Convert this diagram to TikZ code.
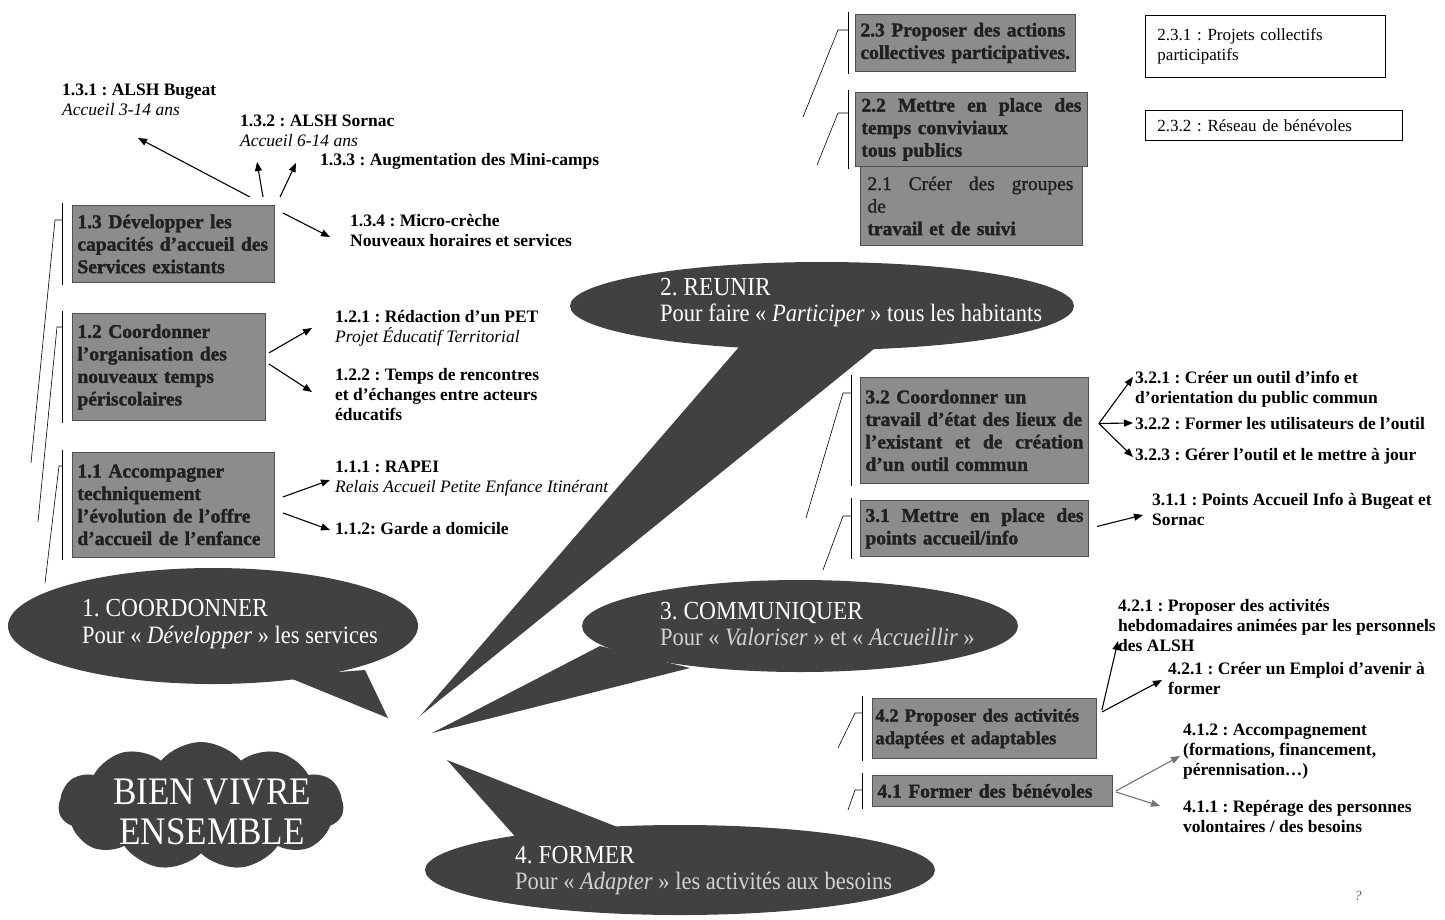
\documentclass[tikz,border=0pt]{standalone}
\usepackage{fontspec}
\setmainfont{Liberation Serif}
\newfontfamily\condfont{Liberation Serif}[Ligatures=TeX, FakeStretch=0.9]
\newfontfamily\boxfont{Liberation Serif}[Ligatures=TeX, UprightFeatures={FakeBold=1.2}, BoldFeatures={FakeBold=1.6}]
\usetikzlibrary{arrows.meta,shapes.symbols,calc}
\definecolor{bubble}{HTML}{414141}
\definecolor{boxfill}{HTML}{8C8C8C}
\definecolor{boxline}{HTML}{505050}
\definecolor{boxtext}{HTML}{202020}
\definecolor{lightsub}{HTML}{D2D2D2}
\frenchspacing
\tikzset{
  kbox/.style={draw=boxline, line width=0.9pt, fill=boxfill, anchor=north west,
    inner xsep=5pt, inner ysep=0pt, align=left, text=boxtext,
    execute at begin node={\hyphenpenalty=10000 \exhyphenpenalty=10000 \hbadness=10000},
    font=\boxfont\fontsize{19.5}{22.5}\selectfont\bfseries},
  wbox/.style={draw=black, line width=0.9pt, fill=white, anchor=north west,
    inner xsep=12pt, inner ysep=0pt, align=left,
    font=\fontsize{17}{20}\selectfont},
  lbl/.style={anchor=base west, inner sep=0pt, align=left,
    font=\fontsize{17.5}{20}\selectfont\bfseries},
  arr/.style={line width=1.1pt, -{Triangle[length=9pt,width=7pt]}},
  garr/.style={arr, draw=black!55, color=black!55},
  brk/.style={line width=0.6pt},
  bub/.style={fill=bubble, draw=none},
  btitle/.style={anchor=base west, inner sep=0pt, text=white,
    font=\condfont\fontsize{26}{28}\selectfont},
  bsub/.style={anchor=base west, inner sep=0pt, text=white,
    font=\condfont\fontsize{25}{27}\selectfont},
  ctext/.style={anchor=base, inner sep=0pt, text=white,
    font=\condfont\fontsize{39}{40}\selectfont},
}
\newcommand{\sline}[2]{\makebox[#1][s]{\spaceskip=0.25em plus 1fil\relax #2}}
\begin{document}
\begin{tikzpicture}[x=1pt,y=-1pt]
\useasboundingbox (0,0) rectangle (1445,919);
\fill[white] (0,0) rectangle (1445,919);

% ---------- boxes ----------
\node[kbox, minimum width=202pt, minimum height=77pt, text width=192pt] (b13) at (72,205)
  {1.3 Développer les\\capacités d'accueil des\\Services existants};
\node[kbox, minimum width=193pt, minimum height=107pt, text width=183pt] (b12) at (72,313)
  {1.2 Coordonner\\l'organisation des\\nouveaux temps\\périscolaires};
\node[kbox, minimum width=202pt, minimum height=105pt, text width=192pt] (b11) at (72,452)
  {1.1 Accompagner\\techniquement\\l'évolution de l'offre\\d'accueil de l'enfance};

\node[kbox, minimum width=220pt, minimum height=57pt, text width=210pt] (b23) at (855,14)
  {2.3 Proposer des actions\\collectives participatives.};
\node[kbox, minimum width=232pt, minimum height=74pt, text width=220pt] (b22) at (855,92)
  {\sline{220pt}{2.2 Mettre en place des}\\temps conviviaux\\tous publics};
\node[kbox, minimum width=222pt, minimum height=79pt, text width=208pt] (b21) at (860,166)
  {{\mdseries\sline{206pt}{2.1 Créer des groupes}}\\{\mdseries de}\\travail et de suivi};

\node[wbox, minimum width=240pt, minimum height=62pt, text width=216pt] (w231) at (1145,15)
  {2.3.1 : Projets collectifs\\participatifs};
\node[wbox, minimum width=257pt, minimum height=30pt, text width=233pt] (w232) at (1145,110)
  {2.3.2 : Réseau de bénévoles};

\node[kbox, minimum width=228pt, minimum height=106pt, text width=218pt] (b32) at (860,377)
  {3.2 Coordonner un\\travail d'état des lieux de\\\sline{218pt}{l'existant et de création}\\d'un outil commun};
\node[kbox, minimum width=228pt, minimum height=56pt, text width=218pt] (b31) at (860,500)
  {\sline{218pt}{3.1 Mettre en place des}\\points accueil/info};

\node[kbox, minimum width=224pt, minimum height=60pt, text width=218pt, inner xsep=3pt,
  font=\boxfont\fontsize{18.5}{22.5}\selectfont\bfseries] (b42) at (872,698)
  {4.2 Proposer des activités\\adaptées et adaptables};
\node[kbox, minimum width=240pt, minimum height=31pt, text width=230pt] (b41) at (872,775)
  {4.1 Former des bénévoles};

% ---------- labels (base = last line) ----------
\node[lbl] (n131) at (62,115) {1.3.1 : ALSH Bugeat\\{\mdseries\itshape Accueil 3-14 ans}};
\node[lbl] (n132) at (240,146) {1.3.2 : ALSH Sornac\\{\mdseries\itshape Accueil 6-14 ans}};
\node[lbl] (n133) at (320,165) {1.3.3 : Augmentation des Mini-camps};
\node[lbl] (n134) at (350,246) {1.3.4 : Micro-crèche\\Nouveaux horaires et services};
\node[lbl] (n121) at (335,342) {1.2.1 : Rédaction d'un PET\\{\mdseries\itshape Projet Éducatif Territorial}};
\node[lbl] (n122) at (335,420) {1.2.2 : Temps de rencontres\\et d'échanges entre acteurs\\éducatifs};
\node[lbl] (n111) at (335,492) {1.1.1 : RAPEI\\{\mdseries\itshape Relais Accueil Petite Enfance Itinérant}};
\node[lbl] (n112) at (335,534) {1.1.2: Garde a domicile};

\node[lbl] (n321) at (1135,403) {3.2.1 : Créer un outil d'info et\\d'orientation du public commun};
\node[lbl] (n322) at (1135,429) {3.2.2 : Former les utilisateurs de l'outil};
\node[lbl] (n323) at (1135,460) {3.2.3 : Gérer l'outil et le mettre à jour};
\node[lbl] (n311) at (1152,525) {3.1.1 : Points Accueil Info à Bugeat et\\Sornac};

\node[lbl] (n421a) at (1118,651) {4.2.1 : Proposer des activités\\hebdomadaires animées par les personnels\\des ALSH};
\node[lbl] (n421b) at (1168,694) {4.2.1 : Créer un Emploi d'avenir à\\former};
\node[lbl] (n412) at (1183,775) {4.1.2 : Accompagnement\\(formations, financement,\\pérennisation…)};
\node[lbl] (n411) at (1183,832) {4.1.1 : Repérage des personnes\\volontaires / des besoins};

\node[anchor=base, inner sep=0pt, text=black!60, font=\fontsize{14}{16}\selectfont\itshape] (qm) at (1358,900) {?};

% ---------- arrows ----------
\coordinate (h131) at (138,138);
\coordinate (h132) at (257,162);
\coordinate (h133) at (296,163);
\coordinate (h134) at (330,237);
\draw[arr] ($(b13.north west)+(178,-8)$) -- (h131);
\draw[arr] ($(b13.north west)+(191,-8)$) -- (h132);
\draw[arr] ($(b13.north west)+(208,-8)$) -- (h133);
\draw[arr] ($(b13.north east)+(8,8)$) -- (h134);

\coordinate (h121) at (312,328);
\coordinate (h122) at (312,392);
\draw[arr] ($(b12.east)+(3,-14)$) -- (h121);
\draw[arr] ($(b12.east)+(3,-3)$) -- (h122);

\coordinate (h111) at (330,480);
\coordinate (h112) at (330,530);
\draw[arr] ($(b11.east)+(8,-8)$) -- (h111);
\draw[arr] ($(b11.east)+(8,8)$) -- (h112);

\coordinate (t32) at ($(b32.east)+(10,-7)$);
\coordinate (h321) at (1133,377);
\coordinate (h322) at (1133,423);
\coordinate (h323) at (1133,457);
\draw[arr] (t32) -- (h321);
\draw[arr] (t32) -- (h322);
\draw[arr] (t32) -- (h323);

\coordinate (h311) at (1143,515);
\draw[arr] ($(b31.east)+(8,-2)$) -- (h311);

\coordinate (h421a) at (1118,641);
\coordinate (h421b) at (1162,680);
\draw[arr] ($(b42.north east)+(5,12)$) -- (h421a);
\draw[arr] ($(b42.north east)+(5,14)$) -- (h421b);

\coordinate (h412) at (1180,756);
\coordinate (h411) at (1160,806);
\draw[garr] ($(b41.east)+(3,0)$) -- (h412);
\draw[garr] ($(b41.east)+(3,1)$) -- (h411);

% ---------- bracket lines ----------
\foreach \bx/\vx/\tx/\ty/\ex/\ey in {b13/62/55/220/31/463, b12/62/57/327/38/522, b11/62/59/466/45/583,
  b23/848/838/30/803/117, b22/848/838/113/817/165,
  b32/851/843/393/806/518, b31/851/843/516/823/570,
  b42/862/855/713/838/748, b41/862/855/790/848/810}{
  \draw[brk] let \p1=(\bx.north), \p2=(\bx.south) in (\vx,\y1+2) -- (\vx,\y2-2);
  \draw[brk] (\ex,\ey) -- (\tx,\ty) -- (\vx,\ty);
}

% ---------- speech bubbles ----------
\fill[bub] (213,626) ellipse [x radius=205pt, y radius=58pt];
\fill[bub] (285,676) -- (365,670) -- (388,718) -- cycle;

\fill[bub] (822,306) ellipse [x radius=252pt, y radius=44pt];
\fill[bub] (745,340) -- (885,340) -- (420,716) -- cycle;

\fill[bub] (800,626) ellipse [x radius=218pt, y radius=46pt];
\fill[bub] (600,646) -- (432,733) -- (690,668) -- cycle;

\fill[bub] (680,870) ellipse [x radius=255pt, y radius=45pt];
\fill[bub] (520,842) -- (447,760) -- (625,830) -- cycle;

\node[cloud, cloud puffs=11, cloud puff arc=100, aspect=2.2, fill=bubble, draw=none,
  minimum width=285pt, minimum height=128pt, inner sep=0pt] (cl) at (201,806) {};

% ---------- bubble texts ----------
\node[btitle] (t1a) at (82,616) {1. COORDONNER};
\node[bsub] (t1b) at (82,643) {Pour « \textit{Développer} »  les services};
\node[btitle] (t2a) at (660,295) {2. REUNIR};
\node[bsub] (t2b) at (660,321) {Pour faire « \textit{Participer} » tous les habitants};
\node[btitle] (t3a) at (660,619) {3. COMMUNIQUER};
\node[bsub, text=lightsub] (t3b) at (660,645) {Pour « \textit{Valoriser} » et « \textit{Accueillir} »};
\node[btitle] (t4a) at (515,863) {4. FORMER};
\node[bsub, text=lightsub] (t4b) at (515,889) {Pour « \textit{Adapter} » les activités aux besoins};
\node[ctext] (c1) at (212,804) {BIEN VIVRE};
\node[ctext] (c2) at (212,844) {ENSEMBLE};
\end{tikzpicture}
\end{document}
